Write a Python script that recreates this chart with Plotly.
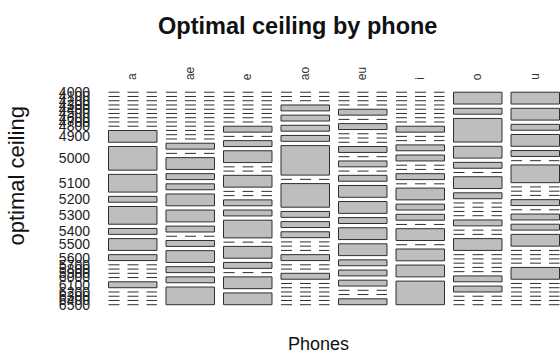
import plotly.graph_objects as go

# ---------------- data ----------------
phones = ["a", "ae", "e", "ao", "eu", "i", "o", "u"]
ceilings = ["4000", "4100", "4200", "4300", "4400", "4500", "4600", "4700", "4800",
            "4900", "5000", "5100", "5200", "5300", "5400", "5500", "5600", "5700",
            "5800", "5900", "6000", "6100", "6200", "6300", "6400", "6500"]

count_a  = [0, 0, 0, 0, 0, 0, 0, 0, 0, 2, 4, 3, 1, 3, 1, 2, 1, 0, 0, 0, 0, 1, 0, 0, 0, 0]
count_ae = [0, 0, 0, 0, 0, 0, 0, 0, 0, 0, 0, 0, 1, 0, 2, 1, 1, 2, 2, 1, 0, 1, 2, 1, 1, 3]
count_e  = [0, 0, 0, 0, 0, 0, 0, 0, 1, 0, 1, 2, 0, 0, 2, 0, 0, 1, 1, 3, 0, 2, 1, 0, 2, 2]
count_ao = [0, 0, 0, 1, 1, 1, 1, 5, 0, 4, 1, 1, 1, 0, 0, 0, 1, 0, 0, 1, 0, 0, 0, 0, 0, 0]
count_eu = [0, 0, 0, 0, 1, 0, 1, 0, 0, 0, 1, 0, 1, 0, 1, 2, 2, 1, 2, 2, 1, 1, 1, 0, 0, 1]
count_i  = [0, 0, 0, 0, 0, 0, 0, 0, 1, 0, 0, 1, 1, 0, 0, 1, 0, 2, 1, 1, 0, 2, 0, 2, 2, 4]
count_o  = [2, 1, 4, 2, 1, 0, 2, 1, 0, 0, 0, 0, 1, 0, 0, 2, 0, 0, 0, 0, 0, 1, 1, 0, 0, 0]
count_u  = [2, 2, 1, 2, 1, 0, 3, 0, 0, 0, 1, 0, 1, 1, 2, 0, 0, 0, 0, 2, 0, 0, 0, 0, 0, 0]

counts = [count_a, count_ae, count_e, count_ao, count_eu, count_i, count_o, count_u]

# ---------------- mosaic layout (unit square) ----------------
OFF_X = 0.14   # share of width used by gaps between phones
OFF_Y = 0.50   # share of height used by gaps between ceiling levels

n_cols = len(phones)
n_lev = len(ceilings)
totals = [sum(c) for c in counts]
grand = sum(totals)
gap_x = OFF_X / (n_cols - 1)
gap_y = OFF_Y / (n_lev - 1)

bar_x, bar_w, bar_base, bar_h = [], [], [], []
line_x, line_y = [], []
col_centers = []
first_col_centers = []

x_left = 0.0
for ci, cnt in enumerate(counts):
    w = (1 - OFF_X) * totals[ci] / grand
    col_centers.append(x_left + w / 2)
    y_cur = 0.0
    for li, c in enumerate(cnt):
        h = (1 - OFF_Y) * c / totals[ci]
        if c > 0:
            bar_x.append(x_left + w / 2)
            bar_w.append(w)
            bar_base.append(y_cur)
            bar_h.append(h)
        else:
            line_x += [x_left, x_left + w, None]
            line_y += [y_cur, y_cur, None]
        if ci == 0:
            first_col_centers.append(y_cur + h / 2)
        y_cur += h + gap_y
    x_left += w + gap_x

# ---------------- figure ----------------
W, H = 560, 357
# pixel placement of the unit square
PX0, PX1 = 108.5, 559.5
PY0, PY1 = 90.5, 306.0
# plot area in pixels
AX0, AX1 = 100, 560
AY0, AY1 = 85, 312

sx = PX1 - PX0
sy = PY1 - PY0
x_range = [(AX0 - PX0) / sx, (AX1 - PX0) / sx]
y_range = [(AY1 - PY0) / sy, (AY0 - PY0) / sy]  # reversed: top level on top

FONT = "Liberation Sans, Arial, Helvetica, sans-serif"
EDGE = "#2f2f2f"

fig = go.Figure()
fig.add_trace(go.Bar(
    x=bar_x, y=bar_h, base=bar_base, width=bar_w,
    marker=dict(color="#bebebe", line=dict(color=EDGE, width=1)),
    hoverinfo="skip", showlegend=False,
))
fig.add_trace(go.Scatter(
    x=line_x, y=line_y, mode="lines", connectgaps=False,
    line=dict(color=EDGE, width=1, dash="11px,8px"),
    hoverinfo="skip", showlegend=False,
))

annotations = []
for name, xc in zip(phones, col_centers):
    annotations.append(dict(
        text=name, x=xc, xref="x", y=(H - 80) / H, yref="paper",
        xanchor="center", yanchor="bottom", textangle=-90, showarrow=False,
        font=dict(family=FONT, size=12, color="#333"),
    ))
annotations.append(dict(
    text="<b>Optimal ceiling by phone</b>", x=297.5 / W, xref="paper",
    y=(H - 23) / H, yref="paper", xanchor="center", yanchor="middle",
    showarrow=False, font=dict(family=FONT, size=23.5, color="#111"),
))
annotations.append(dict(
    text="Phones", x=318 / W, xref="paper", y=(H - 346) / H, yref="paper",
    xanchor="center", yanchor="middle", showarrow=False,
    font=dict(family=FONT, size=18, color="#111"),
))
annotations.append(dict(
    text="optimal ceiling", x=17 / W, xref="paper", y=(H - 176) / H, yref="paper",
    xanchor="center", yanchor="middle", textangle=-90, showarrow=False,
    font=dict(family=FONT, size=22, color="#111"),
))

fig.update_layout(
    width=W, height=H,
    margin=dict(l=0, r=0, t=0, b=0),
    paper_bgcolor="white", plot_bgcolor="white",
    barmode="overlay",
    showlegend=False,
    annotations=annotations,
    xaxis=dict(domain=[AX0 / W, AX1 / W], range=x_range, showgrid=False,
               zeroline=False, showticklabels=False, showline=False, ticks=""),
    yaxis=dict(domain=[(H - AY1) / H, (H - AY0) / H], range=y_range,
               showgrid=False, zeroline=False, showline=False, ticks="",
               tickmode="array", tickvals=first_col_centers, ticktext=ceilings,
               tickfont=dict(family=FONT, size=14, color="#222"),
               ticklabelstandoff=9),
)

fig.write_html("out.html")
